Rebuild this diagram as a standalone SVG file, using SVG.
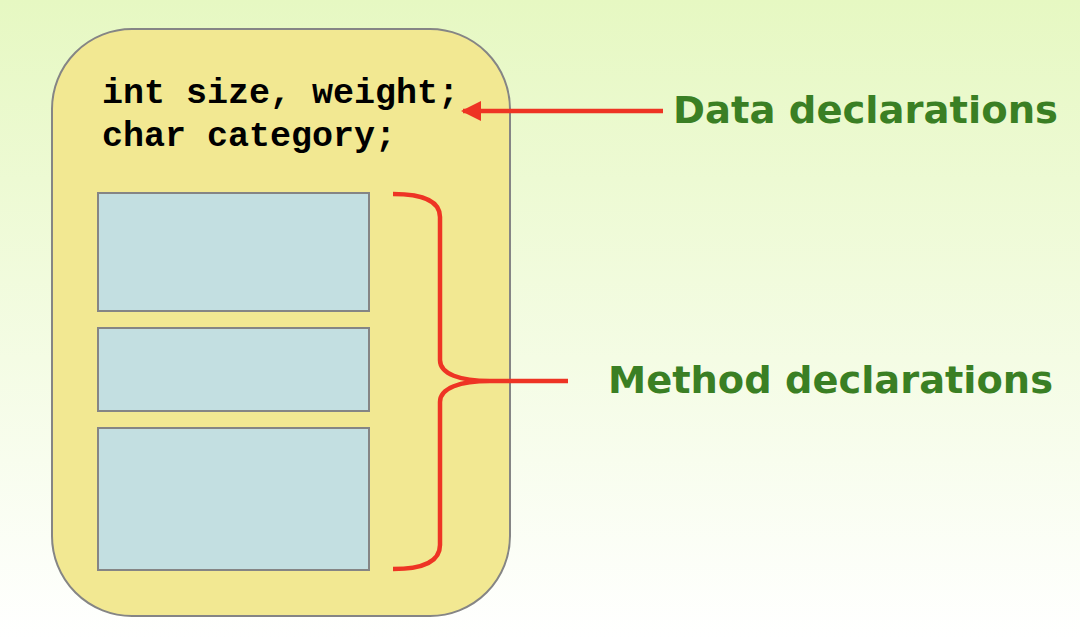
<svg xmlns="http://www.w3.org/2000/svg" width="1080" height="640" viewBox="0 0 1080 640">
<defs>
<linearGradient id="bg" x1="0" y1="0" x2="0" y2="1">
<stop offset="0" stop-color="#e6f8c2"/>
<stop offset="1" stop-color="#ffffff"/>
</linearGradient>
<marker id="ah" viewBox="0 0 10 10" refX="9" refY="5" markerWidth="20" markerHeight="20" markerUnits="userSpaceOnUse" orient="auto">
<path d="M0,0 L10,5 L0,10 Z" fill="#ee3424"/>
</marker>
<style>
.box{fill:#f2e892;stroke:#858585;stroke-width:2}
.m{fill:#c3dfe1;stroke:#858585;stroke-width:2}
.code{font-family:"Liberation Mono",monospace;font-weight:bold;font-size:35px;fill:#000}
.lbl{font-family:"DejaVu Sans",sans-serif;font-weight:bold;font-size:38px;fill:#3a7f24}
.red{fill:none;stroke:#ee3424;stroke-width:4.5}
</style>
</defs>
<rect width="1080" height="640" fill="url(#bg)"/>
<g id="class">
<rect class="box" x="52" y="29" width="458" height="587" rx="80" ry="80"/>
<text class="code" x="102" y="103">int size, weight;</text>
<text class="code" x="102" y="146">char category;</text>
</g>
<g id="method1"><rect class="m" x="98" y="193" width="271" height="118"/></g>
<g id="method2"><rect class="m" x="98" y="328" width="271" height="83"/></g>
<g id="method3"><rect class="m" x="98" y="428" width="271" height="142"/></g>
<g id="connectors">
<path class="red" d="M393,194 C425,194 440,202 440,217 L440,360 C440,374 460,381 490,381 L568,381 M490,381 C460,381 440,388 440,402 L440,545 C440,560 425,569 393,569"/>
<line class="red" x1="663" y1="111" x2="463" y2="111" marker-end="url(#ah)"/>
</g>
<g id="data-label"><text class="lbl" x="673" y="123" textLength="385" lengthAdjust="spacingAndGlyphs">Data declarations</text></g>
<g id="method-label"><text class="lbl" x="608" y="393" textLength="445" lengthAdjust="spacingAndGlyphs">Method declarations</text></g>
</svg>
